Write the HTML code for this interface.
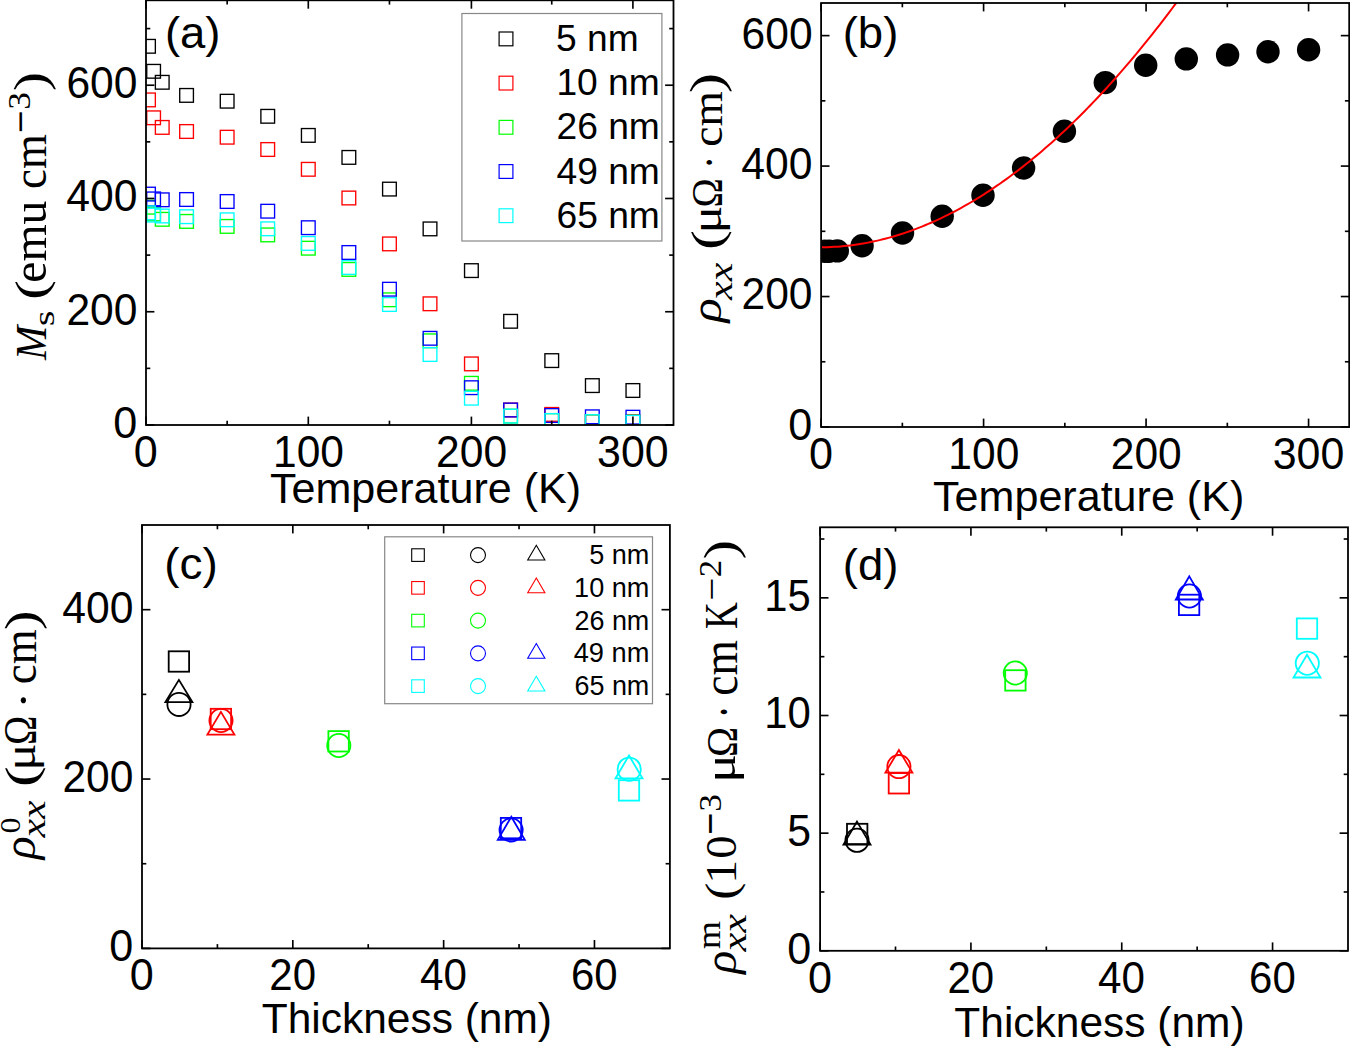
<!DOCTYPE html>
<html><head><meta charset="utf-8"><style>html,body{margin:0;padding:0;background:#fff;overflow:hidden;}svg{display:block;}</style></head>
<body><svg width="1350" height="1047" viewBox="0 0 1350 1047"><clipPath id="ca"><rect x="146" y="0.3" width="527.5" height="424.7"/></clipPath>
<g clip-path="url(#ca)">
<rect x="141.65" y="39.45" width="13.7" height="13.7" fill="none" stroke="#000000" stroke-width="1.35"/>
<rect x="146.75" y="64.45" width="13.7" height="13.7" fill="none" stroke="#000000" stroke-width="1.35"/>
<rect x="155.38" y="75.45" width="13.7" height="13.7" fill="none" stroke="#000000" stroke-width="1.35"/>
<rect x="179.72" y="88.55" width="13.7" height="13.7" fill="none" stroke="#000000" stroke-width="1.35"/>
<rect x="220.3" y="94.35" width="13.7" height="13.7" fill="none" stroke="#000000" stroke-width="1.35"/>
<rect x="260.88" y="109.45" width="13.7" height="13.7" fill="none" stroke="#000000" stroke-width="1.35"/>
<rect x="301.45" y="128.55" width="13.7" height="13.7" fill="none" stroke="#000000" stroke-width="1.35"/>
<rect x="342.02" y="150.55" width="13.7" height="13.7" fill="none" stroke="#000000" stroke-width="1.35"/>
<rect x="382.6" y="182.25" width="13.7" height="13.7" fill="none" stroke="#000000" stroke-width="1.35"/>
<rect x="423.17" y="222.05" width="13.7" height="13.7" fill="none" stroke="#000000" stroke-width="1.35"/>
<rect x="464.55" y="263.75" width="13.7" height="13.7" fill="none" stroke="#000000" stroke-width="1.35"/>
<rect x="503.75" y="314.45" width="13.7" height="13.7" fill="none" stroke="#000000" stroke-width="1.35"/>
<rect x="544.9" y="353.75" width="13.7" height="13.7" fill="none" stroke="#000000" stroke-width="1.35"/>
<rect x="585.48" y="378.75" width="13.7" height="13.7" fill="none" stroke="#000000" stroke-width="1.35"/>
<rect x="626.05" y="383.65" width="13.7" height="13.7" fill="none" stroke="#000000" stroke-width="1.35"/>
<rect x="141.65" y="93.05" width="13.7" height="13.7" fill="none" stroke="#ff0000" stroke-width="1.35"/>
<rect x="146.75" y="110.95" width="13.7" height="13.7" fill="none" stroke="#ff0000" stroke-width="1.35"/>
<rect x="155.38" y="120.55" width="13.7" height="13.7" fill="none" stroke="#ff0000" stroke-width="1.35"/>
<rect x="179.72" y="124.65" width="13.7" height="13.7" fill="none" stroke="#ff0000" stroke-width="1.35"/>
<rect x="220.3" y="130.35" width="13.7" height="13.7" fill="none" stroke="#ff0000" stroke-width="1.35"/>
<rect x="260.88" y="142.65" width="13.7" height="13.7" fill="none" stroke="#ff0000" stroke-width="1.35"/>
<rect x="301.45" y="162.45" width="13.7" height="13.7" fill="none" stroke="#ff0000" stroke-width="1.35"/>
<rect x="342.02" y="191.15" width="13.7" height="13.7" fill="none" stroke="#ff0000" stroke-width="1.35"/>
<rect x="382.6" y="237.05" width="13.7" height="13.7" fill="none" stroke="#ff0000" stroke-width="1.35"/>
<rect x="423.17" y="296.95" width="13.7" height="13.7" fill="none" stroke="#ff0000" stroke-width="1.35"/>
<rect x="464.55" y="357.05" width="13.7" height="13.7" fill="none" stroke="#ff0000" stroke-width="1.35"/>
<rect x="503.75" y="403.15" width="13.7" height="13.7" fill="none" stroke="#ff0000" stroke-width="1.35"/>
<rect x="544.9" y="407.55" width="13.7" height="13.7" fill="none" stroke="#ff0000" stroke-width="1.35"/>
<rect x="585.48" y="414.75" width="13.7" height="13.7" fill="none" stroke="#ff0000" stroke-width="1.35"/>
<rect x="626.05" y="414.75" width="13.7" height="13.7" fill="none" stroke="#ff0000" stroke-width="1.35"/>
<rect x="141.65" y="200.35" width="13.7" height="13.7" fill="none" stroke="#00ff00" stroke-width="1.35"/>
<rect x="146.75" y="207.15" width="13.7" height="13.7" fill="none" stroke="#00ff00" stroke-width="1.35"/>
<rect x="155.38" y="212.45" width="13.7" height="13.7" fill="none" stroke="#00ff00" stroke-width="1.35"/>
<rect x="179.72" y="214.55" width="13.7" height="13.7" fill="none" stroke="#00ff00" stroke-width="1.35"/>
<rect x="220.3" y="219.55" width="13.7" height="13.7" fill="none" stroke="#00ff00" stroke-width="1.35"/>
<rect x="260.88" y="228.05" width="13.7" height="13.7" fill="none" stroke="#00ff00" stroke-width="1.35"/>
<rect x="301.45" y="241.35" width="13.7" height="13.7" fill="none" stroke="#00ff00" stroke-width="1.35"/>
<rect x="342.02" y="262.55" width="13.7" height="13.7" fill="none" stroke="#00ff00" stroke-width="1.35"/>
<rect x="382.6" y="292.95" width="13.7" height="13.7" fill="none" stroke="#00ff00" stroke-width="1.35"/>
<rect x="423.17" y="333.95" width="13.7" height="13.7" fill="none" stroke="#00ff00" stroke-width="1.35"/>
<rect x="464.55" y="376.45" width="13.7" height="13.7" fill="none" stroke="#00ff00" stroke-width="1.35"/>
<rect x="503.75" y="409.25" width="13.7" height="13.7" fill="none" stroke="#00ff00" stroke-width="1.35"/>
<rect x="544.9" y="413.65" width="13.7" height="13.7" fill="none" stroke="#00ff00" stroke-width="1.35"/>
<rect x="585.48" y="414.75" width="13.7" height="13.7" fill="none" stroke="#00ff00" stroke-width="1.35"/>
<rect x="626.05" y="415.35" width="13.7" height="13.7" fill="none" stroke="#00ff00" stroke-width="1.35"/>
<rect x="141.65" y="187.25" width="13.7" height="13.7" fill="none" stroke="#0000ff" stroke-width="1.35"/>
<rect x="146.75" y="192.05" width="13.7" height="13.7" fill="none" stroke="#0000ff" stroke-width="1.35"/>
<rect x="155.38" y="192.95" width="13.7" height="13.7" fill="none" stroke="#0000ff" stroke-width="1.35"/>
<rect x="179.72" y="192.65" width="13.7" height="13.7" fill="none" stroke="#0000ff" stroke-width="1.35"/>
<rect x="220.3" y="194.65" width="13.7" height="13.7" fill="none" stroke="#0000ff" stroke-width="1.35"/>
<rect x="260.88" y="204.35" width="13.7" height="13.7" fill="none" stroke="#0000ff" stroke-width="1.35"/>
<rect x="301.45" y="220.85" width="13.7" height="13.7" fill="none" stroke="#0000ff" stroke-width="1.35"/>
<rect x="342.02" y="245.65" width="13.7" height="13.7" fill="none" stroke="#0000ff" stroke-width="1.35"/>
<rect x="382.6" y="282.35" width="13.7" height="13.7" fill="none" stroke="#0000ff" stroke-width="1.35"/>
<rect x="423.17" y="331.45" width="13.7" height="13.7" fill="none" stroke="#0000ff" stroke-width="1.35"/>
<rect x="464.55" y="380.85" width="13.7" height="13.7" fill="none" stroke="#0000ff" stroke-width="1.35"/>
<rect x="503.75" y="403.15" width="13.7" height="13.7" fill="none" stroke="#0000ff" stroke-width="1.35"/>
<rect x="544.9" y="408.65" width="13.7" height="13.7" fill="none" stroke="#0000ff" stroke-width="1.35"/>
<rect x="585.48" y="409.95" width="13.7" height="13.7" fill="none" stroke="#0000ff" stroke-width="1.35"/>
<rect x="626.05" y="410.35" width="13.7" height="13.7" fill="none" stroke="#0000ff" stroke-width="1.35"/>
<rect x="141.65" y="205.95" width="13.7" height="13.7" fill="none" stroke="#00ffff" stroke-width="1.35"/>
<rect x="146.75" y="208.25" width="13.7" height="13.7" fill="none" stroke="#00ffff" stroke-width="1.35"/>
<rect x="155.38" y="209.15" width="13.7" height="13.7" fill="none" stroke="#00ffff" stroke-width="1.35"/>
<rect x="179.72" y="209.85" width="13.7" height="13.7" fill="none" stroke="#00ffff" stroke-width="1.35"/>
<rect x="220.3" y="212.95" width="13.7" height="13.7" fill="none" stroke="#00ffff" stroke-width="1.35"/>
<rect x="260.88" y="221.95" width="13.7" height="13.7" fill="none" stroke="#00ffff" stroke-width="1.35"/>
<rect x="301.45" y="236.55" width="13.7" height="13.7" fill="none" stroke="#00ffff" stroke-width="1.35"/>
<rect x="342.02" y="260.65" width="13.7" height="13.7" fill="none" stroke="#00ffff" stroke-width="1.35"/>
<rect x="382.6" y="297.65" width="13.7" height="13.7" fill="none" stroke="#00ffff" stroke-width="1.35"/>
<rect x="423.17" y="347.65" width="13.7" height="13.7" fill="none" stroke="#00ffff" stroke-width="1.35"/>
<rect x="464.55" y="391.35" width="13.7" height="13.7" fill="none" stroke="#00ffff" stroke-width="1.35"/>
<rect x="503.75" y="409.25" width="13.7" height="13.7" fill="none" stroke="#00ffff" stroke-width="1.35"/>
<rect x="544.9" y="413.65" width="13.7" height="13.7" fill="none" stroke="#00ffff" stroke-width="1.35"/>
<rect x="585.48" y="414.75" width="13.7" height="13.7" fill="none" stroke="#00ffff" stroke-width="1.35"/>
<rect x="626.05" y="415.35" width="13.7" height="13.7" fill="none" stroke="#00ffff" stroke-width="1.35"/>
</g>
<line x1="146" y1="425" x2="146" y2="416.6" stroke="#000" stroke-width="1.65"/>
<line x1="146" y1="0.3" x2="146" y2="8.7" stroke="#000" stroke-width="1.65"/>
<line x1="308.3" y1="425" x2="308.3" y2="416.6" stroke="#000" stroke-width="1.65"/>
<line x1="308.3" y1="0.3" x2="308.3" y2="8.7" stroke="#000" stroke-width="1.65"/>
<line x1="471.4" y1="425" x2="471.4" y2="416.6" stroke="#000" stroke-width="1.65"/>
<line x1="471.4" y1="0.3" x2="471.4" y2="8.7" stroke="#000" stroke-width="1.65"/>
<line x1="632.9" y1="425" x2="632.9" y2="416.6" stroke="#000" stroke-width="1.65"/>
<line x1="632.9" y1="0.3" x2="632.9" y2="8.7" stroke="#000" stroke-width="1.65"/>
<line x1="227.15" y1="425" x2="227.15" y2="420.7" stroke="#000" stroke-width="1.65"/>
<line x1="227.15" y1="0.3" x2="227.15" y2="4.6" stroke="#000" stroke-width="1.65"/>
<line x1="389.45" y1="425" x2="389.45" y2="420.7" stroke="#000" stroke-width="1.65"/>
<line x1="389.45" y1="0.3" x2="389.45" y2="4.6" stroke="#000" stroke-width="1.65"/>
<line x1="551.75" y1="425" x2="551.75" y2="420.7" stroke="#000" stroke-width="1.65"/>
<line x1="551.75" y1="0.3" x2="551.75" y2="4.6" stroke="#000" stroke-width="1.65"/>
<line x1="146" y1="425" x2="154.4" y2="425" stroke="#000" stroke-width="1.65"/>
<line x1="673.5" y1="425" x2="665.1" y2="425" stroke="#000" stroke-width="1.65"/>
<line x1="146" y1="311.74" x2="154.4" y2="311.74" stroke="#000" stroke-width="1.65"/>
<line x1="673.5" y1="311.74" x2="665.1" y2="311.74" stroke="#000" stroke-width="1.65"/>
<line x1="146" y1="198.48" x2="154.4" y2="198.48" stroke="#000" stroke-width="1.65"/>
<line x1="673.5" y1="198.48" x2="665.1" y2="198.48" stroke="#000" stroke-width="1.65"/>
<line x1="146" y1="85.22" x2="154.4" y2="85.22" stroke="#000" stroke-width="1.65"/>
<line x1="673.5" y1="85.22" x2="665.1" y2="85.22" stroke="#000" stroke-width="1.65"/>
<line x1="146" y1="368.37" x2="150.3" y2="368.37" stroke="#000" stroke-width="1.65"/>
<line x1="673.5" y1="368.37" x2="669.2" y2="368.37" stroke="#000" stroke-width="1.65"/>
<line x1="146" y1="255.11" x2="150.3" y2="255.11" stroke="#000" stroke-width="1.65"/>
<line x1="673.5" y1="255.11" x2="669.2" y2="255.11" stroke="#000" stroke-width="1.65"/>
<line x1="146" y1="141.85" x2="150.3" y2="141.85" stroke="#000" stroke-width="1.65"/>
<line x1="673.5" y1="141.85" x2="669.2" y2="141.85" stroke="#000" stroke-width="1.65"/>
<line x1="146" y1="28.59" x2="150.3" y2="28.59" stroke="#000" stroke-width="1.65"/>
<line x1="673.5" y1="28.59" x2="669.2" y2="28.59" stroke="#000" stroke-width="1.65"/>
<rect x="146" y="0.3" width="527.5" height="424.7" fill="none" stroke="#000" stroke-width="1.8"/>
<text transform="matrix(1.0158,0,0,1.0376,133.81,467.02)" font-family='"Liberation Sans", sans-serif' font-size="42.5">0</text>
<text transform="matrix(1.0002,0,0,1.0376,273.08,467.02)" font-family='"Liberation Sans", sans-serif' font-size="42.5">100</text>
<text transform="matrix(1.0017,0,0,1.0376,436.08,467.02)" font-family='"Liberation Sans", sans-serif' font-size="42.5">200</text>
<text transform="matrix(1.0094,0,0,1.0376,597.05,467.02)" font-family='"Liberation Sans", sans-serif' font-size="42.5">300</text>
<text transform="matrix(1.0158,0,0,1.0376,113.19,437.92)" font-family='"Liberation Sans", sans-serif' font-size="42.5">0</text>
<text transform="matrix(1.0017,0,0,1.0376,66.42,324.66)" font-family='"Liberation Sans", sans-serif' font-size="42.5">200</text>
<text transform="matrix(1.0040,0,0,1.0376,66.26,211.40)" font-family='"Liberation Sans", sans-serif' font-size="42.5">400</text>
<text transform="matrix(1.0014,0,0,1.0376,66.45,98.14)" font-family='"Liberation Sans", sans-serif' font-size="42.5">600</text>
<text transform="matrix(1.0137,0,0,0.9904,269.96,502.71)" font-family='"Liberation Sans", sans-serif' font-size="42.5">Temperature (K)</text>
<text transform="matrix(0.9993,0,0,0.9634,164.92,48.29)" font-family='"Liberation Sans", sans-serif' font-size="45.5">(a)</text>
<rect x="461.9" y="13.5" width="200" height="227.5" fill="#fff" stroke="#888" stroke-width="1.2"/>
<rect x="499.1" y="32" width="13.8" height="13.8" fill="none" stroke="#000000" stroke-width="1.2"/>
<text transform="matrix(1.0043,0,0,0.9930,556.07,51.06)" font-family='"Liberation Sans", sans-serif' font-size="37">5 nm</text>
<rect x="499.1" y="76.2" width="13.8" height="13.8" fill="none" stroke="#ff0000" stroke-width="1.2"/>
<text transform="matrix(1.0059,0,0,1.0075,556.40,95.26)" font-family='"Liberation Sans", sans-serif' font-size="37">10 nm</text>
<rect x="499.1" y="120.4" width="13.8" height="13.8" fill="none" stroke="#00ff00" stroke-width="1.2"/>
<text transform="matrix(1.0055,0,0,1.0075,556.45,139.46)" font-family='"Liberation Sans", sans-serif' font-size="37">26 nm</text>
<rect x="499.1" y="164.6" width="13.8" height="13.8" fill="none" stroke="#0000ff" stroke-width="1.2"/>
<text transform="matrix(1.0055,0,0,1.0075,556.44,183.66)" font-family='"Liberation Sans", sans-serif' font-size="37">49 nm</text>
<rect x="499.1" y="208.8" width="13.8" height="13.8" fill="none" stroke="#00ffff" stroke-width="1.2"/>
<text transform="matrix(1.0053,0,0,1.0075,556.47,227.86)" font-family='"Liberation Sans", sans-serif' font-size="37">65 nm</text>
<clipPath id="cb"><rect x="821.1" y="3" width="528.1" height="424"/></clipPath>
<g clip-path="url(#cb)">
<circle cx="824.4" cy="251.3" r="11.7" fill="#000"/>
<circle cx="829.2" cy="251.3" r="11.7" fill="#000"/>
<circle cx="837.3" cy="250.9" r="11.7" fill="#000"/>
<circle cx="862.1" cy="245.7" r="11.7" fill="#000"/>
<circle cx="902.5" cy="233" r="11.7" fill="#000"/>
<circle cx="942.2" cy="216.2" r="11.7" fill="#000"/>
<circle cx="983" cy="195.2" r="11.7" fill="#000"/>
<circle cx="1023.6" cy="168" r="11.7" fill="#000"/>
<circle cx="1064.4" cy="131.2" r="11.7" fill="#000"/>
<circle cx="1105.3" cy="82.6" r="11.7" fill="#000"/>
<circle cx="1145.7" cy="65.2" r="11.7" fill="#000"/>
<circle cx="1186.3" cy="58.9" r="11.7" fill="#000"/>
<circle cx="1227.6" cy="54.9" r="11.7" fill="#000"/>
<circle cx="1268" cy="51.7" r="11.7" fill="#000"/>
<circle cx="1308.6" cy="49.7" r="11.7" fill="#000"/>
<polyline points="821.1,247.23 824.35,247.2 827.6,247.13 830.85,247.02 834.1,246.85 837.35,246.65 840.6,246.4 843.85,246.11 847.1,245.78 850.35,245.4 853.6,244.99 856.85,244.52 860.1,244.02 863.35,243.48 866.6,242.89 869.85,242.26 873.1,241.59 876.35,240.88 879.6,240.13 882.85,239.33 886.1,238.5 889.35,237.62 892.6,236.7 895.85,235.74 899.1,234.74 902.35,233.7 905.59,232.62 908.84,231.5 912.09,230.34 915.34,229.13 918.59,227.89 921.84,226.6 925.09,225.28 928.34,223.91 931.59,222.5 934.84,221.06 938.09,219.57 941.34,218.04 944.59,216.47 947.84,214.87 951.09,213.22 954.34,211.53 957.59,209.8 960.84,208.03 964.09,206.23 967.34,204.38 970.59,202.49 973.84,200.56 977.09,198.59 980.34,196.59 983.59,194.54 986.84,192.45 990.09,190.32 993.34,188.16 996.59,185.95 999.84,183.7 1003.09,181.42 1006.34,179.09 1009.59,176.73 1012.84,174.32 1016.09,171.88 1019.34,169.4 1022.59,166.87 1025.84,164.31 1029.09,161.71 1032.34,159.07 1035.59,156.39 1038.84,153.67 1042.09,150.91 1045.34,148.11 1048.59,145.27 1051.84,142.39 1055.09,139.48 1058.34,136.52 1061.59,133.52 1064.84,130.49 1068.08,127.42 1071.33,124.3 1074.58,121.15 1077.83,117.96 1081.08,114.73 1084.33,111.46 1087.58,108.16 1090.83,104.81 1094.08,101.42 1097.33,98 1100.58,94.53 1103.83,91.03 1107.08,87.49 1110.33,83.91 1113.58,80.29 1116.83,76.63 1120.08,72.93 1123.33,69.19 1126.58,65.42 1129.83,61.61 1133.08,57.75 1136.33,53.86 1139.58,49.93 1142.83,45.96 1146.08,41.95 1149.33,37.91 1152.58,33.82 1155.83,29.7 1159.08,25.53 1162.33,21.33 1165.58,17.09 1168.83,12.81 1172.08,8.49 1175.33,4.14 1178.58,-0.26 1181.83,-4.69 1185.08,-9.16 1188.33,-13.67 1191.58,-18.22 1194.83,-22.81" fill="none" stroke="#ff0000" stroke-width="2"/>
</g>
<line x1="821.1" y1="427" x2="821.1" y2="418.6" stroke="#000" stroke-width="1.65"/>
<line x1="821.1" y1="3" x2="821.1" y2="11.4" stroke="#000" stroke-width="1.65"/>
<line x1="983.59" y1="427" x2="983.59" y2="418.6" stroke="#000" stroke-width="1.65"/>
<line x1="983.59" y1="3" x2="983.59" y2="11.4" stroke="#000" stroke-width="1.65"/>
<line x1="1146.08" y1="427" x2="1146.08" y2="418.6" stroke="#000" stroke-width="1.65"/>
<line x1="1146.08" y1="3" x2="1146.08" y2="11.4" stroke="#000" stroke-width="1.65"/>
<line x1="1308.57" y1="427" x2="1308.57" y2="418.6" stroke="#000" stroke-width="1.65"/>
<line x1="1308.57" y1="3" x2="1308.57" y2="11.4" stroke="#000" stroke-width="1.65"/>
<line x1="902.35" y1="427" x2="902.35" y2="422.7" stroke="#000" stroke-width="1.65"/>
<line x1="902.35" y1="3" x2="902.35" y2="7.3" stroke="#000" stroke-width="1.65"/>
<line x1="1064.84" y1="427" x2="1064.84" y2="422.7" stroke="#000" stroke-width="1.65"/>
<line x1="1064.84" y1="3" x2="1064.84" y2="7.3" stroke="#000" stroke-width="1.65"/>
<line x1="1227.33" y1="427" x2="1227.33" y2="422.7" stroke="#000" stroke-width="1.65"/>
<line x1="1227.33" y1="3" x2="1227.33" y2="7.3" stroke="#000" stroke-width="1.65"/>
<line x1="821.1" y1="427" x2="829.5" y2="427" stroke="#000" stroke-width="1.65"/>
<line x1="1349.2" y1="427" x2="1340.8" y2="427" stroke="#000" stroke-width="1.65"/>
<line x1="821.1" y1="296.54" x2="829.5" y2="296.54" stroke="#000" stroke-width="1.65"/>
<line x1="1349.2" y1="296.54" x2="1340.8" y2="296.54" stroke="#000" stroke-width="1.65"/>
<line x1="821.1" y1="166.08" x2="829.5" y2="166.08" stroke="#000" stroke-width="1.65"/>
<line x1="1349.2" y1="166.08" x2="1340.8" y2="166.08" stroke="#000" stroke-width="1.65"/>
<line x1="821.1" y1="35.62" x2="829.5" y2="35.62" stroke="#000" stroke-width="1.65"/>
<line x1="1349.2" y1="35.62" x2="1340.8" y2="35.62" stroke="#000" stroke-width="1.65"/>
<line x1="821.1" y1="361.77" x2="825.4" y2="361.77" stroke="#000" stroke-width="1.65"/>
<line x1="1349.2" y1="361.77" x2="1344.9" y2="361.77" stroke="#000" stroke-width="1.65"/>
<line x1="821.1" y1="231.31" x2="825.4" y2="231.31" stroke="#000" stroke-width="1.65"/>
<line x1="1349.2" y1="231.31" x2="1344.9" y2="231.31" stroke="#000" stroke-width="1.65"/>
<line x1="821.1" y1="100.85" x2="825.4" y2="100.85" stroke="#000" stroke-width="1.65"/>
<line x1="1349.2" y1="100.85" x2="1344.9" y2="100.85" stroke="#000" stroke-width="1.65"/>
<rect x="821.1" y="3" width="528.1" height="424" fill="none" stroke="#000" stroke-width="1.8"/>
<text transform="matrix(1.0158,0,0,1.0376,808.91,469.02)" font-family='"Liberation Sans", sans-serif' font-size="42.5">0</text>
<text transform="matrix(1.0002,0,0,1.0376,948.37,469.02)" font-family='"Liberation Sans", sans-serif' font-size="42.5">100</text>
<text transform="matrix(1.0017,0,0,1.0376,1110.76,469.02)" font-family='"Liberation Sans", sans-serif' font-size="42.5">200</text>
<text transform="matrix(1.0094,0,0,1.0376,1272.72,469.02)" font-family='"Liberation Sans", sans-serif' font-size="42.5">300</text>
<text transform="matrix(1.0158,0,0,1.0376,788.29,439.92)" font-family='"Liberation Sans", sans-serif' font-size="42.5">0</text>
<text transform="matrix(1.0017,0,0,1.0376,741.52,309.46)" font-family='"Liberation Sans", sans-serif' font-size="42.5">200</text>
<text transform="matrix(1.0040,0,0,1.0376,741.36,179.00)" font-family='"Liberation Sans", sans-serif' font-size="42.5">400</text>
<text transform="matrix(1.0014,0,0,1.0376,741.55,48.54)" font-family='"Liberation Sans", sans-serif' font-size="42.5">600</text>
<text transform="matrix(1.0137,0,0,0.9904,933.06,511.21)" font-family='"Liberation Sans", sans-serif' font-size="42.5">Temperature (K)</text>
<text transform="matrix(0.9993,0,0,0.9634,842.72,48.29)" font-family='"Liberation Sans", sans-serif' font-size="45.5">(b)</text>
<line x1="142" y1="948.4" x2="142" y2="940" stroke="#000" stroke-width="1.65"/>
<line x1="142" y1="525" x2="142" y2="533.4" stroke="#000" stroke-width="1.65"/>
<line x1="292.82" y1="948.4" x2="292.82" y2="940" stroke="#000" stroke-width="1.65"/>
<line x1="292.82" y1="525" x2="292.82" y2="533.4" stroke="#000" stroke-width="1.65"/>
<line x1="443.64" y1="948.4" x2="443.64" y2="940" stroke="#000" stroke-width="1.65"/>
<line x1="443.64" y1="525" x2="443.64" y2="533.4" stroke="#000" stroke-width="1.65"/>
<line x1="594.46" y1="948.4" x2="594.46" y2="940" stroke="#000" stroke-width="1.65"/>
<line x1="594.46" y1="525" x2="594.46" y2="533.4" stroke="#000" stroke-width="1.65"/>
<line x1="217.41" y1="948.4" x2="217.41" y2="944.1" stroke="#000" stroke-width="1.65"/>
<line x1="217.41" y1="525" x2="217.41" y2="529.3" stroke="#000" stroke-width="1.65"/>
<line x1="368.23" y1="948.4" x2="368.23" y2="944.1" stroke="#000" stroke-width="1.65"/>
<line x1="368.23" y1="525" x2="368.23" y2="529.3" stroke="#000" stroke-width="1.65"/>
<line x1="519.05" y1="948.4" x2="519.05" y2="944.1" stroke="#000" stroke-width="1.65"/>
<line x1="519.05" y1="525" x2="519.05" y2="529.3" stroke="#000" stroke-width="1.65"/>
<line x1="142" y1="948.4" x2="150.4" y2="948.4" stroke="#000" stroke-width="1.65"/>
<line x1="669.9" y1="948.4" x2="661.5" y2="948.4" stroke="#000" stroke-width="1.65"/>
<line x1="142" y1="779.04" x2="150.4" y2="779.04" stroke="#000" stroke-width="1.65"/>
<line x1="669.9" y1="779.04" x2="661.5" y2="779.04" stroke="#000" stroke-width="1.65"/>
<line x1="142" y1="609.68" x2="150.4" y2="609.68" stroke="#000" stroke-width="1.65"/>
<line x1="669.9" y1="609.68" x2="661.5" y2="609.68" stroke="#000" stroke-width="1.65"/>
<line x1="142" y1="863.72" x2="146.3" y2="863.72" stroke="#000" stroke-width="1.65"/>
<line x1="669.9" y1="863.72" x2="665.6" y2="863.72" stroke="#000" stroke-width="1.65"/>
<line x1="142" y1="694.36" x2="146.3" y2="694.36" stroke="#000" stroke-width="1.65"/>
<line x1="669.9" y1="694.36" x2="665.6" y2="694.36" stroke="#000" stroke-width="1.65"/>
<rect x="142" y="525" width="527.9" height="423.4" fill="none" stroke="#000" stroke-width="1.8"/>
<rect x="168.7" y="651.3" width="20.4" height="20.4" fill="none" stroke="#000000" stroke-width="1.8"/>
<rect x="210.7" y="708.8" width="20.4" height="20.4" fill="none" stroke="#ff0000" stroke-width="1.8"/>
<rect x="328.4" y="731.1" width="20.4" height="20.4" fill="none" stroke="#00ff00" stroke-width="1.8"/>
<rect x="500.8" y="817.9" width="20.4" height="20.4" fill="none" stroke="#0000ff" stroke-width="1.8"/>
<rect x="618.8" y="780.2" width="20.4" height="20.4" fill="none" stroke="#00ffff" stroke-width="1.8"/>
<circle cx="179" cy="704.4" r="11.6" fill="none" stroke="#000000" stroke-width="1.8"/>
<circle cx="221" cy="720.5" r="11.6" fill="none" stroke="#ff0000" stroke-width="1.8"/>
<circle cx="338.8" cy="745.5" r="11.6" fill="none" stroke="#00ff00" stroke-width="1.8"/>
<circle cx="511.1" cy="830" r="11.6" fill="none" stroke="#0000ff" stroke-width="1.8"/>
<circle cx="629.2" cy="769.2" r="11.6" fill="none" stroke="#00ffff" stroke-width="1.8"/>
<polygon points="178.9,679.9 192.4,702.1 165.4,702.1" fill="none" stroke="#000000" stroke-width="1.8"/>
<polygon points="220.9,711.9 234.4,734.6 207.4,734.6" fill="none" stroke="#ff0000" stroke-width="1.8"/>
<polygon points="511.3,816.8 524.8,839.8 497.8,839.8" fill="none" stroke="#0000ff" stroke-width="1.8"/>
<polygon points="629,755.5 642.5,778.4 615.5,778.4" fill="none" stroke="#00ffff" stroke-width="1.8"/>
<text transform="matrix(1.0158,0,0,1.0376,129.81,990.42)" font-family='"Liberation Sans", sans-serif' font-size="42.5">0</text>
<text transform="matrix(0.9881,0,0,1.0376,269.34,990.42)" font-family='"Liberation Sans", sans-serif' font-size="42.5">20</text>
<text transform="matrix(0.9919,0,0,1.0376,419.99,990.42)" font-family='"Liberation Sans", sans-serif' font-size="42.5">40</text>
<text transform="matrix(0.9876,0,0,1.0376,571.01,990.42)" font-family='"Liberation Sans", sans-serif' font-size="42.5">60</text>
<text transform="matrix(1.0158,0,0,1.0376,109.19,961.32)" font-family='"Liberation Sans", sans-serif' font-size="42.5">0</text>
<text transform="matrix(1.0017,0,0,1.0376,62.42,791.96)" font-family='"Liberation Sans", sans-serif' font-size="42.5">200</text>
<text transform="matrix(1.0040,0,0,1.0376,62.26,622.60)" font-family='"Liberation Sans", sans-serif' font-size="42.5">400</text>
<text transform="matrix(0.9996,0,0,0.9899,261.72,1032.89)" font-family='"Liberation Sans", sans-serif' font-size="42.5">Thickness (nm)</text>
<text transform="matrix(1.0087,0,0,0.9634,164.20,578.89)" font-family='"Liberation Sans", sans-serif' font-size="45.5">(c)</text>
<rect x="384.7" y="536.8" width="267.8" height="166.9" fill="#fff" stroke="#888" stroke-width="1.2"/>
<rect x="411.7" y="548.8" width="12.6" height="12.6" fill="none" stroke="#000000" stroke-width="1.1"/>
<circle cx="478" cy="555.1" r="7.5" fill="none" stroke="#000000" stroke-width="1.1"/>
<polygon points="536.3,545.27 544.9,560 527.7,560" fill="none" stroke="#000000" stroke-width="1.1"/>
<text transform="matrix(1.0029,0,0,0.9915,589.15,564.16)" font-family='"Liberation Sans", sans-serif' font-size="27">5 nm</text>
<rect x="411.7" y="581.55" width="12.6" height="12.6" fill="none" stroke="#ff0000" stroke-width="1.1"/>
<circle cx="478" cy="587.85" r="7.5" fill="none" stroke="#ff0000" stroke-width="1.1"/>
<polygon points="536.3,578.02 544.9,592.75 527.7,592.75" fill="none" stroke="#ff0000" stroke-width="1.1"/>
<text transform="matrix(1.0029,0,0,1.0061,574.11,596.91)" font-family='"Liberation Sans", sans-serif' font-size="27">10 nm</text>
<rect x="411.7" y="614.3" width="12.6" height="12.6" fill="none" stroke="#00ff00" stroke-width="1.1"/>
<circle cx="478" cy="620.6" r="7.5" fill="none" stroke="#00ff00" stroke-width="1.1"/>
<text transform="matrix(0.9987,0,0,1.0061,574.42,629.66)" font-family='"Liberation Sans", sans-serif' font-size="27">26 nm</text>
<rect x="411.7" y="647.05" width="12.6" height="12.6" fill="none" stroke="#0000ff" stroke-width="1.1"/>
<circle cx="478" cy="653.35" r="7.5" fill="none" stroke="#0000ff" stroke-width="1.1"/>
<polygon points="536.3,643.52 544.9,658.25 527.7,658.25" fill="none" stroke="#0000ff" stroke-width="1.1"/>
<text transform="matrix(1.0089,0,0,1.0061,573.67,662.41)" font-family='"Liberation Sans", sans-serif' font-size="27">49 nm</text>
<rect x="411.7" y="679.8" width="12.6" height="12.6" fill="none" stroke="#00ffff" stroke-width="1.1"/>
<circle cx="478" cy="686.1" r="7.5" fill="none" stroke="#00ffff" stroke-width="1.1"/>
<polygon points="536.3,676.27 544.9,691 527.7,691" fill="none" stroke="#00ffff" stroke-width="1.1"/>
<text transform="matrix(0.9985,0,0,1.0061,574.43,695.16)" font-family='"Liberation Sans", sans-serif' font-size="27">65 nm</text>
<line x1="820.1" y1="950.8" x2="820.1" y2="942.4" stroke="#000" stroke-width="1.65"/>
<line x1="820.1" y1="527.3" x2="820.1" y2="535.7" stroke="#000" stroke-width="1.65"/>
<line x1="970.92" y1="950.8" x2="970.92" y2="942.4" stroke="#000" stroke-width="1.65"/>
<line x1="970.92" y1="527.3" x2="970.92" y2="535.7" stroke="#000" stroke-width="1.65"/>
<line x1="1121.74" y1="950.8" x2="1121.74" y2="942.4" stroke="#000" stroke-width="1.65"/>
<line x1="1121.74" y1="527.3" x2="1121.74" y2="535.7" stroke="#000" stroke-width="1.65"/>
<line x1="1272.56" y1="950.8" x2="1272.56" y2="942.4" stroke="#000" stroke-width="1.65"/>
<line x1="1272.56" y1="527.3" x2="1272.56" y2="535.7" stroke="#000" stroke-width="1.65"/>
<line x1="895.51" y1="950.8" x2="895.51" y2="946.5" stroke="#000" stroke-width="1.65"/>
<line x1="895.51" y1="527.3" x2="895.51" y2="531.6" stroke="#000" stroke-width="1.65"/>
<line x1="1046.33" y1="950.8" x2="1046.33" y2="946.5" stroke="#000" stroke-width="1.65"/>
<line x1="1046.33" y1="527.3" x2="1046.33" y2="531.6" stroke="#000" stroke-width="1.65"/>
<line x1="1197.15" y1="950.8" x2="1197.15" y2="946.5" stroke="#000" stroke-width="1.65"/>
<line x1="1197.15" y1="527.3" x2="1197.15" y2="531.6" stroke="#000" stroke-width="1.65"/>
<line x1="820.1" y1="950.8" x2="828.5" y2="950.8" stroke="#000" stroke-width="1.65"/>
<line x1="1348" y1="950.8" x2="1339.6" y2="950.8" stroke="#000" stroke-width="1.65"/>
<line x1="820.1" y1="833.15" x2="828.5" y2="833.15" stroke="#000" stroke-width="1.65"/>
<line x1="1348" y1="833.15" x2="1339.6" y2="833.15" stroke="#000" stroke-width="1.65"/>
<line x1="820.1" y1="715.5" x2="828.5" y2="715.5" stroke="#000" stroke-width="1.65"/>
<line x1="1348" y1="715.5" x2="1339.6" y2="715.5" stroke="#000" stroke-width="1.65"/>
<line x1="820.1" y1="597.85" x2="828.5" y2="597.85" stroke="#000" stroke-width="1.65"/>
<line x1="1348" y1="597.85" x2="1339.6" y2="597.85" stroke="#000" stroke-width="1.65"/>
<line x1="820.1" y1="891.97" x2="824.4" y2="891.97" stroke="#000" stroke-width="1.65"/>
<line x1="1348" y1="891.97" x2="1343.7" y2="891.97" stroke="#000" stroke-width="1.65"/>
<line x1="820.1" y1="774.32" x2="824.4" y2="774.32" stroke="#000" stroke-width="1.65"/>
<line x1="1348" y1="774.32" x2="1343.7" y2="774.32" stroke="#000" stroke-width="1.65"/>
<line x1="820.1" y1="656.67" x2="824.4" y2="656.67" stroke="#000" stroke-width="1.65"/>
<line x1="1348" y1="656.67" x2="1343.7" y2="656.67" stroke="#000" stroke-width="1.65"/>
<line x1="820.1" y1="539.02" x2="824.4" y2="539.02" stroke="#000" stroke-width="1.65"/>
<line x1="1348" y1="539.02" x2="1343.7" y2="539.02" stroke="#000" stroke-width="1.65"/>
<rect x="820.1" y="527.3" width="527.9" height="423.5" fill="none" stroke="#000" stroke-width="1.8"/>
<rect x="847" y="823.8" width="20.4" height="20.4" fill="none" stroke="#000000" stroke-width="1.8"/>
<rect x="888.7" y="773.1" width="20.4" height="20.4" fill="none" stroke="#ff0000" stroke-width="1.8"/>
<rect x="1005.2" y="670.2" width="20.4" height="20.4" fill="none" stroke="#00ff00" stroke-width="1.8"/>
<rect x="1178.9" y="594.7" width="20.4" height="20.4" fill="none" stroke="#0000ff" stroke-width="1.8"/>
<rect x="1296.8" y="618.4" width="20.4" height="20.4" fill="none" stroke="#00ffff" stroke-width="1.8"/>
<circle cx="857" cy="840.3" r="11.6" fill="none" stroke="#000000" stroke-width="1.8"/>
<circle cx="898.9" cy="766.6" r="11.6" fill="none" stroke="#ff0000" stroke-width="1.8"/>
<circle cx="1015.3" cy="673" r="11.6" fill="none" stroke="#00ff00" stroke-width="1.8"/>
<circle cx="1189.4" cy="596" r="11.6" fill="none" stroke="#0000ff" stroke-width="1.8"/>
<circle cx="1307.3" cy="663.2" r="11.6" fill="none" stroke="#00ffff" stroke-width="1.8"/>
<polygon points="857,821.6 870.5,844.5 843.5,844.5" fill="none" stroke="#000000" stroke-width="1.8"/>
<polygon points="898.9,750 912.4,772.6 885.4,772.6" fill="none" stroke="#ff0000" stroke-width="1.8"/>
<polygon points="1189.3,576.4 1202.8,599.5 1175.8,599.5" fill="none" stroke="#0000ff" stroke-width="1.8"/>
<polygon points="1307,654.8 1320.5,677.5 1293.5,677.5" fill="none" stroke="#00ffff" stroke-width="1.8"/>
<text transform="matrix(1.0158,0,0,1.0376,807.91,992.82)" font-family='"Liberation Sans", sans-serif' font-size="42.5">0</text>
<text transform="matrix(0.9881,0,0,1.0376,947.44,992.82)" font-family='"Liberation Sans", sans-serif' font-size="42.5">20</text>
<text transform="matrix(0.9919,0,0,1.0376,1098.09,992.82)" font-family='"Liberation Sans", sans-serif' font-size="42.5">40</text>
<text transform="matrix(0.9876,0,0,1.0376,1249.11,992.82)" font-family='"Liberation Sans", sans-serif' font-size="42.5">60</text>
<text transform="matrix(1.0158,0,0,1.0376,787.29,963.72)" font-family='"Liberation Sans", sans-serif' font-size="42.5">0</text>
<text transform="matrix(1.0075,0,0,1.0226,787.35,846.07)" font-family='"Liberation Sans", sans-serif' font-size="42.5">5</text>
<text transform="matrix(0.9855,0,0,1.0376,764.31,728.42)" font-family='"Liberation Sans", sans-serif' font-size="42.5">10</text>
<text transform="matrix(0.9826,0,0,1.0226,764.32,610.77)" font-family='"Liberation Sans", sans-serif' font-size="42.5">15</text>
<text transform="matrix(0.9996,0,0,0.9899,954.32,1037.09)" font-family='"Liberation Sans", sans-serif' font-size="42.5">Thickness (nm)</text>
<text transform="matrix(0.9993,0,0,0.9634,842.82,579.69)" font-family='"Liberation Sans", sans-serif' font-size="45.5">(d)</text>
<text transform="matrix(0,-0.8950,0.9710,0,45.50,360.00)" font-family='"Liberation Serif", serif' font-size="46" font-style="italic">M</text>
<text transform="matrix(0,-1.3000,0.9200,0,53.60,326.30)" font-family='"Liberation Serif", serif' font-size="31">s</text>
<text transform="matrix(0,-1.2917,0.9810,0,45.89,299.68)" font-family='"Liberation Serif", serif' font-size="46">(</text>
<text transform="matrix(0,-1.0377,1.0667,0,46.30,282.78)" font-family='"Liberation Serif", serif' font-size="46">emu</text>
<text transform="matrix(0,-0.9741,1.0381,0,45.80,188.95)" font-family='"Liberation Serif", serif' font-size="46">cm</text>
<text transform="matrix(0,-1.3071,1.6000,0,36.60,133.11)" font-family='"Liberation Serif", serif' font-size="31">−</text>
<text transform="matrix(0,-1.1333,0.9905,0,30.10,109.87)" font-family='"Liberation Serif", serif' font-size="31">3</text>
<text transform="matrix(0,-1.2364,1.0073,0,46.43,91.07)" font-family='"Liberation Serif", serif' font-size="46">)</text>
<text transform="matrix(0,-1.1000,0.9839,0,721.16,322.50)" font-family='"Liberation Serif", serif' font-size="46" font-style="italic">ρ</text>
<text transform="matrix(0,-1.3556,1.1200,0,731.60,300.00)" font-family='"Liberation Serif", serif' font-size="31" font-style="italic">xx</text>
<text transform="matrix(0,-1.2917,0.9810,0,721.59,249.68)" font-family='"Liberation Serif", serif' font-size="46">(</text>
<text transform="matrix(0,-1.1316,0.9452,0,721.15,233.53)" font-family='"Liberation Serif", serif' font-size="46">μ</text>
<text transform="matrix(0,-0.8600,0.9710,0,722.00,207.52)" font-family='"Liberation Serif", serif' font-size="46">Ω</text>
<text transform="matrix(0,-0.8600,1.0200,0,724.86,168.90)" font-family='"Liberation Serif", serif' font-size="46">·</text>
<text transform="matrix(0,-0.9870,0.9857,0,722.00,146.77)" font-family='"Liberation Serif", serif' font-size="46">cm</text>
<text transform="matrix(0,-1.3273,1.0049,0,722.36,93.25)" font-family='"Liberation Serif", serif' font-size="46">)</text>
<text transform="matrix(0,-1.0364,1.0129,0,35.47,859.36)" font-family='"Liberation Serif", serif' font-size="46" font-style="italic">ρ</text>
<text transform="matrix(0,-1.0308,0.9429,0,20.20,833.53)" font-family='"Liberation Serif", serif' font-size="31">0</text>
<text transform="matrix(0,-1.3519,1.0867,0,45.10,837.60)" font-family='"Liberation Serif", serif' font-size="31" font-style="italic">xx</text>
<text transform="matrix(0,-1.3500,0.9786,0,36.11,787.10)" font-family='"Liberation Serif", serif' font-size="46">(</text>
<text transform="matrix(0,-1.1105,0.9548,0,35.35,770.74)" font-family='"Liberation Serif", serif' font-size="46">μ</text>
<text transform="matrix(0,-0.8600,0.9871,0,36.30,745.02)" font-family='"Liberation Serif", serif' font-size="46">Ω</text>
<text transform="matrix(0,-1.1400,0.9600,0,38.28,708.90)" font-family='"Liberation Serif", serif' font-size="46">·</text>
<text transform="matrix(0,-0.9741,1.0476,0,36.30,684.15)" font-family='"Liberation Serif", serif' font-size="46">cm</text>
<text transform="matrix(0,-1.3000,1.0024,0,36.88,630.30)" font-family='"Liberation Serif", serif' font-size="46">)</text>
<text transform="matrix(0,-1.0455,1.0065,0,735.94,973.65)" font-family='"Liberation Serif", serif' font-size="46" font-style="italic">ρ</text>
<text transform="matrix(0,-1.1609,1.0600,0,720.30,948.96)" font-family='"Liberation Serif", serif' font-size="31">m</text>
<text transform="matrix(0,-1.3630,1.1133,0,745.80,951.50)" font-family='"Liberation Serif", serif' font-size="31" font-style="italic">xx</text>
<text transform="matrix(0,-1.1167,0.9714,0,736.09,899.73)" font-family='"Liberation Serif", serif' font-size="46">(</text>
<text transform="matrix(0,-1.0438,0.9484,0,736.40,883.67)" font-family='"Liberation Serif", serif' font-size="46">1</text>
<text transform="matrix(0,-1.0158,0.9677,0,736.40,858.73)" font-family='"Liberation Serif", serif' font-size="46">0</text>
<text transform="matrix(0,-1.2786,1.8000,0,729.10,835.06)" font-family='"Liberation Serif", serif' font-size="31">−</text>
<text transform="matrix(0,-1.1333,0.9905,0,720.80,811.87)" font-family='"Liberation Serif", serif' font-size="31">3</text>
<text transform="matrix(0,-1.1684,0.9710,0,735.39,782.77)" font-family='"Liberation Serif", serif' font-size="46">μ</text>
<text transform="matrix(0,-0.8833,0.9677,0,736.50,756.97)" font-family='"Liberation Serif", serif' font-size="46">Ω</text>
<text transform="matrix(0,-0.8600,1.1400,0,741.32,718.60)" font-family='"Liberation Serif", serif' font-size="46">·</text>
<text transform="matrix(0,-0.9907,1.0810,0,737.20,695.78)" font-family='"Liberation Serif", serif' font-size="46">cm</text>
<text transform="matrix(0,-0.8094,0.9935,0,737.20,628.91)" font-family='"Liberation Serif", serif' font-size="46">K</text>
<text transform="matrix(0,-1.3286,1.2000,0,723.60,600.76)" font-family='"Liberation Serif", serif' font-size="31">−</text>
<text transform="matrix(0,-1.1231,1.0000,0,720.90,577.32)" font-family='"Liberation Serif", serif' font-size="31">2</text>
<text transform="matrix(0,-1.2545,0.9902,0,736.39,559.31)" font-family='"Liberation Serif", serif' font-size="46">)</text></svg></body></html>
